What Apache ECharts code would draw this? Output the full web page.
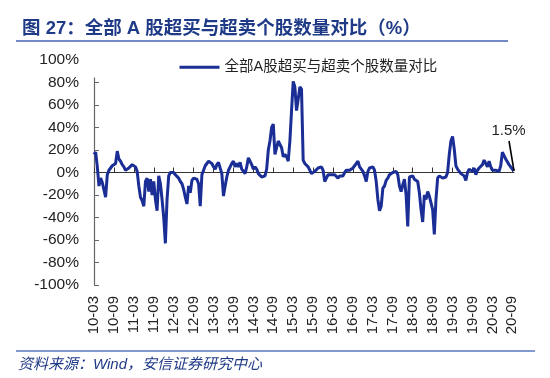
<!DOCTYPE html>
<html>
<head>
<meta charset="utf-8">
<script src="https://cdn.jsdelivr.net/npm/echarts@6/dist/echarts.min.js"></script>
<style>
html,body{margin:0;padding:0;background:#fff;}
#c{width:550px;height:378px;}
</style>
</head>
<body>
<div id="c"></div>
<script>
// Semi-monthly observations, starting 2010-03 (first half)
var startYear = 2010, startMonth = 3;
var tickLabels = ['10-03','10-09','11-03','11-09','12-03','12-09','13-03','13-09','14-03','14-09','15-03','15-09','16-03','16-09','17-03','17-09','18-03','18-09','19-03','19-09','20-03','20-09'];
var seriesName = '全部A股超买与超卖个股数量对比';
var values = [
  16, 18, 5, -12, -5, -9, -8, -22, -2, 2,
  4, 6, 6, 8, 19, 12, 10, 7, 5, 2,
  3, 4, 5, 7, 6, 5, 1, -12, -22, -25,
  -30, -8, -5, -17, -6, -20, -8, -24, -34, -3,
  -10, -24, -40, -63, -24, -3, 0, 1, 0, -2,
  -2, -5, -8, -10, -15, -22, -28, -12, -18, -7,
  -5, -4, -6, -10, -30, -2, 2, 6, 8, 10,
  11, 8, 5, 3, 7, 9, 10, -1, -21, -12,
  -4, 2, 5, 8, 10, 5, 8, 5, 9, 3,
  1, -1, 5, 13, 10, 7, 3, 5, 3, -1,
  -2, -4, -5, -3, 3, 20, 28, 40, 43, 16,
  22, 28, 29, 22, 14, 16, 14, 10, 28, 55,
  81, 76, 55, 65, 76, 74, 11, 8, 7, 5,
  4, -1, -2, 1, 2, 4, 5, 5, 2, -8,
  -5, -2, -1, -2, -3, -2, -3, -5, -3, -2,
  -3, 0, 2, 1, 2, 3, 4, 6, 8, 10,
  5, 4, 1, -3, -8, 1, 4, 5, 5, 2,
  -8, -24, -34, -30, -14, -12, -7, -5, -2, -1,
  0, 0, 1, -2, -12, -17, -11, -6, -20, -48,
  -4, -5, -3, -6, -5, -8, -18, -33, -44, -20,
  -24, -17, -21, -27, -33, -55, -24, -5, -3, -4,
  -5, -6, -4, 0, 16, 28, 32, 21, 6, 3,
  1, -1, -1, -3, -7, 0, 3, 2, 1, 4,
  -2, 2, 4, 5, 7, 11, 10, 5, 10, 5,
  2, 1, 2, 2, 1, 6, 18, 15, 12, 11,
  7, 5, 3, 1.5
];
var lastValue = 1.5;
var annotText = '1.5%';
var annotStartValue = 28;

// build category list (dates) for each observation
var categories = [];
for (var i = 0; i < values.length; i++) {
  var m = startMonth - 1 + Math.floor(i / 2);
  var y = startYear + Math.floor(m / 12);
  var mm = (m % 12) + 1;
  categories.push(y + '-' + (mm < 10 ? '0' + mm : mm) + (i % 2 === 0 ? '-01' : '-16'));
}
function isLabelIdx(idx) { return idx % 12 === 0 && tickLabels[idx / 12] !== undefined; }

var FONT = '"Liberation Sans", Arial, "Noto Sans CJK SC", sans-serif';
var LINE_COLOR = '#1A2E96';
var chart = echarts.init(document.getElementById('c'), null, {renderer: 'canvas'});
chart.setOption({
  animation: false,
  backgroundColor: '#fff',
  title: {
    text: '图 27：全部 A 股超买与超卖个股数量对比（%）',
    left: 17, top: 15,
    textStyle: {fontFamily: FONT, fontSize: 18.5, fontWeight: 'bold', color: '#1F3A86'}
  },
  graphic: [
    {type: 'line', shape: {x1: 16, y1: 41, x2: 508, y2: 41}, style: {stroke: '#7189C4', lineWidth: 2}},
    {type: 'line', shape: {x1: 16, y1: 351, x2: 535, y2: 351}, style: {stroke: '#5A78BE', lineWidth: 1.5}},
    {type: 'text', left: 18, top: 357, style: {text: '资料来源：Wind，安信证券研究中心', font: 'italic 15px "Liberation Sans", "Noto Sans CJK SC", sans-serif', fill: '#1F3A86'}}
  ],
  legend: {
    data: [seriesName],
    left: 86, top: 57,
    padding: [3, 8, 3, 92],
    backgroundColor: '#fff',
    itemWidth: 40, itemHeight: 14,
    itemStyle: {opacity: 0},
    lineStyle: {width: 3, color: LINE_COLOR},
    textStyle: {fontFamily: FONT, fontSize: 14.5, color: '#222'},
    z: 10
  },
  grid: {left: 94, right: 36, top: 60, bottom: 93, containLabel: false},
  xAxis: [
    {
      type: 'category', data: categories, boundaryGap: false,
      axisLine: {show: false, onZero: false},
      axisTick: {show: false},
      axisLabel: {
        interval: function (idx) { return isLabelIdx(idx); },
        formatter: function (v, idx) { return tickLabels[idx / 12]; },
        rotate: 90, margin: 11,
        fontFamily: FONT, fontSize: 15, color: '#222'
      },
      splitLine: {show: false}
    },
    {
      type: 'category', data: categories, boundaryGap: false, position: 'bottom',
      axisLine: {show: true, onZero: true, lineStyle: {color: '#333', width: 1}},
      axisTick: {show: true, inside: true, length: 5, interval: function (idx) { return isLabelIdx(idx); }, lineStyle: {color: '#333'}},
      axisLabel: {show: false},
      splitLine: {show: false}
    }
  ],
  yAxis: {
    type: 'value', min: -100, max: 100, interval: 20,
    axisLine: {show: true, lineStyle: {color: '#666', width: 1.2}},
    axisTick: {show: true, inside: true, length: 5, lineStyle: {color: '#666'}},
    axisLabel: {formatter: '{value}%', margin: 15, fontFamily: FONT, fontSize: 15.5, color: '#222'},
    splitLine: {show: false}
  },
  series: [{
    name: seriesName,
    type: 'line',
    data: values,
    xAxisIndex: 0,
    symbol: 'none',
    lineStyle: {color: LINE_COLOR, width: 3},
    itemStyle: {color: LINE_COLOR},
    markLine: {
      silent: true,
      symbol: ['none', 'none'],
      lineStyle: {color: '#000', width: 1.6, type: 'solid'},
      label: {show: true, position: 'start', formatter: annotText, fontFamily: FONT, fontSize: 15, color: '#222', distance: 3},
      data: [[
        {coord: [categories[values.length - 4], annotStartValue]},
        {coord: [categories[values.length - 1], lastValue]}
      ]]
    }
  }]
});
</script>
</body>
</html>
